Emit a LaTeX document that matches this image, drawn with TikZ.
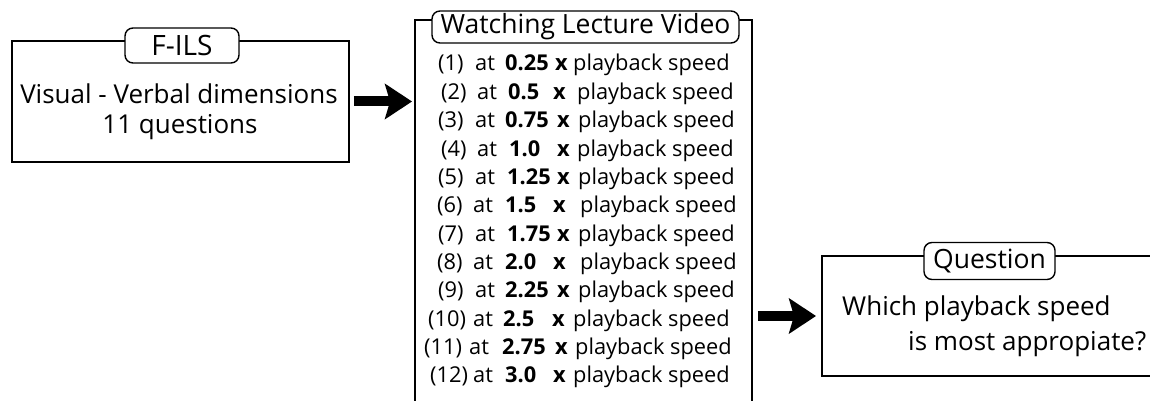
\documentclass[tikz,border=0pt]{standalone}
\usepackage{fontspec}
\setmainfont{Open Sans}
\usetikzlibrary{arrows.meta}
\newcommand\fsz[1]{\fontsize{#1}{#1}\selectfont}
\tikzset{
  outerbox/.style={draw, line width=1.9, inner sep=0pt, fill=none},
  titlebox/.style={draw, line width=1.4, rounded corners=8pt, fill=white, inner sep=0pt},
  bigarrow/.style={line width=10, -{Stealth[length=27, width=35, inset=5]}},
  itemtxt/.style={anchor=base west, inner sep=0pt, font=\fsz{21.8}},
}
\begin{document}
\begin{tikzpicture}[x=1pt, y=-1pt]
\useasboundingbox (0,0) rectangle (1150,401);
\clip (0,0) rectangle (1150,401);

% F-ILS questionnaire
\node[outerbox, minimum width=337, minimum height=121] (fils) at (180.5,101.5) {};
\node[titlebox, minimum width=114, minimum height=35, font=\fsz{28}] (filsT) at (182,45.5) {F-ILS};
\node[anchor=base, inner sep=0pt, font=\fsz{26}] (vv) at (179,103) {Visual - Verbal dimensions};
\node[anchor=base, inner sep=0pt, font=\fsz{26}] (nq) at (180,133) {11 questions};

% lecture video at twelve playback speeds
\node[outerbox, minimum width=337, minimum height=410] (mid) at (583.5,225) {};
\node[titlebox, minimum width=307, minimum height=32, font=\fsz{26.5}] (midT) at (585.5,27) {Watching Lecture Video};
\foreach \lab/\lx/\ax/\num/\nx/\xx/\px [count=\i] in {
  (1)/438/475/0.25/505/555/573,
  (2)/441/477/0.5/508/553/577,
  (3)/438/475/0.75/505/557/578,
  (4)/441/477/1.0/509/557/577,
  (5)/438/475/1.25/507/557/578,
  (6)/437/473/1.5/505/553/580,
  (7)/438/475/1.75/507/557/578,
  (8)/437/473/2.0/505/553/580,
  (9)/438/475/2.25/505/557/578,
  (10)/428/473/2.5/503/552/573,
  (11)/424/469/2.75/502/555/575,
  (12)/430/473/3.0/505/553/573}{
  \pgfmathsetmacro\yb{71+28.36*(\i-1)}
  \node[itemtxt] (n\i) at (\lx,\yb) {\lab};
  \node[itemtxt] (a\i) at (\ax,\yb) {at};
  \node[itemtxt, font=\fsz{21.8}\bfseries] (v\i) at (\nx,\yb) {\num};
  \node[itemtxt, font=\fsz{21.8}\bfseries] (x\i) at (\xx,\yb) {x};
  \node[itemtxt] (p\i) at (\px,\yb) {playback speed};
}

% question asked afterwards
\node[outerbox, minimum width=353, minimum height=120] (q) at (998.5,316) {};
\node[titlebox, minimum width=131, minimum height=37, font=\fsz{26.5}] (qT) at (989.5,261) {Question};
\node[anchor=base west, inner sep=0pt, font=\fsz{26}] (q1) at (842,315) {Which playback speed};
\node[anchor=base west, inner sep=0pt, font=\fsz{26}] (q2) at (908,350) {is most appropiate?};

% flow arrows
\draw[bigarrow] ([xshift=4]fils.east) -- ([xshift=-2]fils.east -| mid.west);
\draw[bigarrow] ([xshift=5]mid.east |- q.west) -- ([xshift=-5]q.west);
\end{tikzpicture}
\end{document}
